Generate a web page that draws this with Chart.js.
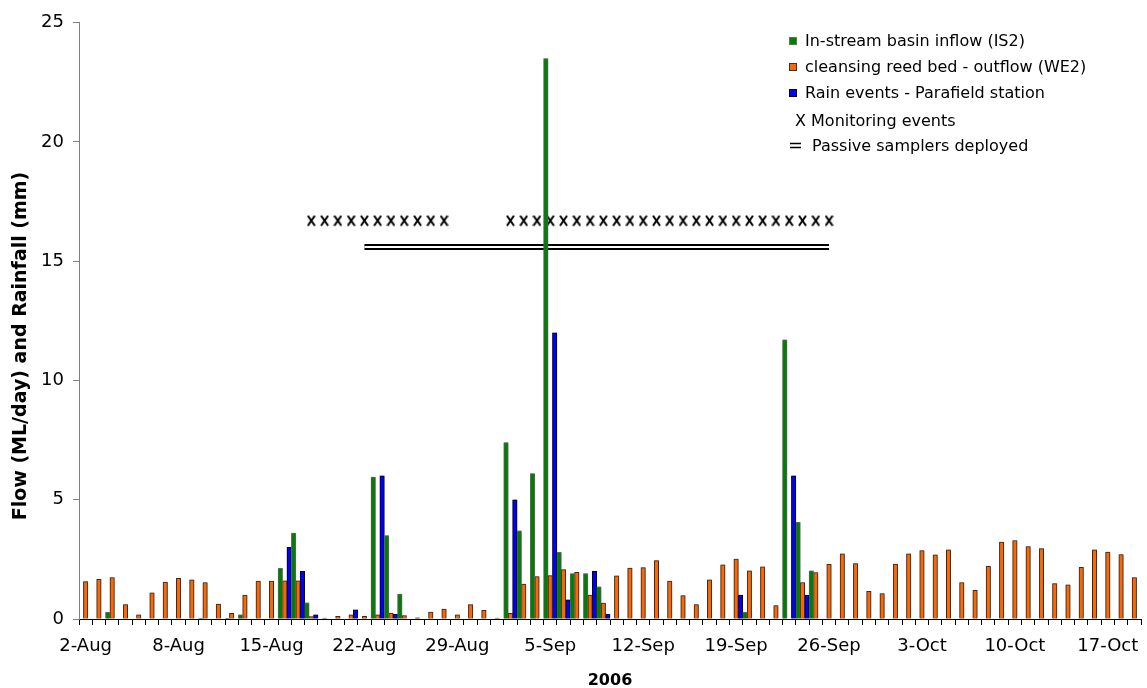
<!DOCTYPE html>
<html>
<head>
<meta charset="utf-8">
<script src="https://cdn.jsdelivr.net/npm/chart.js@4"></script>
<style>
  html, body { margin: 0; padding: 0; background: #fff; }
</style>
</head>
<body>
<canvas id="flowChart" width="1147" height="688"></canvas>
<script>
// one category per day, 1-Aug to 19-Oct 2006
const months = [['Aug', 31], ['Sep', 30], ['Oct', 19]];
const days = [];
months.forEach(([m, n]) => { for (let d = 1; d <= n; d++) days.push(d + '-' + m); });

// labels shown under every 7th day (as in the original sheet)
const tickLabels = ['2-Aug', '8-Aug', '15-Aug', '22-Aug', '29-Aug', '5-Sep',
  '12-Sep', '19-Sep', '26-Sep', '3-Oct', '10-Oct', '17-Oct'];

// ML/day
const inflowIS2 = [
  null, null, 0.28, null, null, null, null, null, null, 0.04,
  null, 0.03, 0.17, null, null, 2.12, 3.6, 0.68, null, null,
  null, null, 5.95, 3.5, 1.04, null, null, null, null, null,
  null, null, 7.4, 3.7, 6.1, 23.5, 2.8, 1.9, 1.9, 1.35,
  null, null, null, null, null, null, null, null, null, null,
  0.28, null, null, 11.7, 4.05, 2.02, null, null, null, null,
  null, null, null, null, null, null, null, null, null, null,
  null, null, null, null, null, null, null, null, null, null
];

const outflowWE2 = [
  1.57, 1.66, 1.74, 0.60, 0.17, 1.10, 1.55, 1.71, 1.64, 1.53,
  0.63, 0.24, 1.00, 1.59, 1.59, 1.60, 1.60, 0.10, 0.04, 0.11,
  0.18, 0.11, 0.17, 0.25, 0.14, 0.05, 0.29, 0.42, 0.18, 0.60,
  0.36, 0.04, 0.24, 1.46, 1.78, 1.82, 2.07, 1.96, 1.00, 0.67,
  1.81, 2.13, 2.16, 2.45, 1.59, 0.98, 0.60, 1.64, 2.27, 2.51,
  2.02, 2.19, 0.56, null, 1.53, 1.95, 2.29, 2.73, 2.32, 1.16,
  1.07, 2.30, 2.73, 2.87, 2.69, 2.90, 1.53, 1.20, 2.21, 3.23,
  3.29, 3.04, 2.95, 1.49, 1.43, 2.17, 2.90, 2.81, 2.70, 1.74
];

// mm
const rainfall = [
  null, null, null, null, null, null, null, null, null, null,
  null, null, null, null, null, 3.0, 2.0, 0.18, null, null,
  0.38, null, 6.0, 0.2, null, null, null, null, null, null,
  null, null, 5.0, null, null, 12.0, 0.8, null, 2.0, 0.2,
  null, null, null, null, null, null, null, null, null, 1.0,
  null, null, null, 6.0, 1.0, null, null, null, null, null,
  null, null, null, null, null, null, null, null, null, null,
  null, null, null, null, null, null, null, null, null, null
];

const monitoringDays = [
  '18-Aug', '19-Aug', '20-Aug', '21-Aug', '22-Aug', '23-Aug', '24-Aug', '25-Aug', '26-Aug', '27-Aug', '28-Aug',
  '2-Sep', '3-Sep', '4-Sep', '5-Sep', '6-Sep', '7-Sep', '8-Sep', '9-Sep', '10-Sep', '11-Sep', '12-Sep', '13-Sep',
  '14-Sep', '15-Sep', '16-Sep', '17-Sep', '18-Sep', '19-Sep', '20-Sep', '21-Sep', '22-Sep', '23-Sep', '24-Sep',
  '25-Sep', '26-Sep'
];
const passivePeriod = ['22-Aug', '26-Sep'];

// heights the two marker rows sit at
const monitorLevel = 16.7;
const passiveLevel = 15.6;

// little "x" glyph for monitoring events
const xMark = document.createElement('canvas');
xMark.width = 9; xMark.height = 12;
const xc = xMark.getContext('2d');
xc.strokeStyle = '#000';
xc.lineWidth = 2.1;
xc.beginPath();
xc.moveTo(1, 1); xc.lineTo(8, 11);
xc.moveTo(8, 1); xc.lineTo(1, 11);
xc.stroke();

const passiveData = passivePeriod.map(d => ({ x: d, y: passiveLevel }));

// soft grey halo round the bars, like the Excel shadow
const barHalo = {
  id: 'barHalo',
  beforeDatasetDraw(chart, args) {
    if (args.meta.type !== 'bar') return;
    chart.ctx.save();
    chart.ctx.shadowColor = 'rgba(0,0,0,0.4)';
    chart.ctx.shadowBlur = 2;
  },
  afterDatasetDraw(chart, args) {
    if (args.meta.type !== 'bar') return;
    chart.ctx.restore();
  }
};

// legend drawn inside the plot, top right
const legendBox = {
  id: 'legendBox',
  afterDraw(chart) {
    const ctx = chart.ctx;
    const ds = chart.data.datasets;
    ctx.save();
    ctx.font = '16px "DejaVu Sans"';
    ctx.textBaseline = 'middle';
    ctx.textAlign = 'left';
    const rows = [42, 68, 94, 122, 146.5];
    for (let i = 0; i < 3; i++) {
      ctx.fillStyle = ds[i].backgroundColor;
      ctx.fillRect(789, rows[i] - 5, 8, 8);
      ctx.strokeStyle = ds[i].borderColor;
      ctx.lineWidth = 1;
      ctx.strokeRect(789.5, rows[i] - 4.5, 7, 7);
      ctx.fillStyle = '#000';
      ctx.fillText(ds[i].label, 805, rows[i]);
    }
    ctx.fillText('X ' + ds[3].label, 795, rows[3]);
    ctx.strokeStyle = '#000';
    ctx.lineWidth = 1.3;
    ctx.beginPath();
    ctx.moveTo(790, rows[4] - 3); ctx.lineTo(801, rows[4] - 3);
    ctx.moveTo(790, rows[4] + 1); ctx.lineTo(801, rows[4] + 1);
    ctx.stroke();
    ctx.fillText(ds[5].label, 812, rows[4]);
    ctx.restore();
  }
};

const yTitle = {
  id: 'yTitle',
  afterDraw(chart) {
    const ctx = chart.ctx;
    ctx.save();
    ctx.translate(21, 346);
    ctx.rotate(-Math.PI / 2);
    ctx.font = 'bold 19px "DejaVu Sans"';
    ctx.fillStyle = '#000';
    ctx.textAlign = 'center';
    ctx.textBaseline = 'middle';
    ctx.fillText('Flow (ML/day) and Rainfall (mm)', 0, 0);
    ctx.restore();
  }
};

new Chart(document.getElementById('flowChart'), {
  type: 'bar',
  data: {
    labels: days,
    datasets: [
      { label: 'In-stream basin inflow (IS2)', data: inflowIS2,
        backgroundColor: '#008000', borderColor: '#6e6e6e', borderWidth: 1, order: 0 },
      { label: 'cleansing reed bed - outflow (WE2)', data: outflowWE2,
        backgroundColor: '#FF6600', borderColor: '#333333', borderWidth: 1, order: 0 },
      { label: 'Rain events - Parafield station', data: rainfall,
        backgroundColor: '#0000FF', borderColor: '#000000', borderWidth: 1, order: 0 },
      { type: 'line', label: 'Monitoring events',
        data: monitoringDays.map(d => ({ x: d, y: monitorLevel })),
        showLine: false, pointStyle: xMark, pointRadius: 5, order: 1 },
      { type: 'line', label: 'Passive samplers deployed', data: passiveData,
        borderColor: '#ffffff', borderWidth: 2, pointRadius: 0, order: 2 },
      { type: 'line', label: 'Passive samplers deployed', data: passiveData,
        borderColor: '#000000', borderWidth: 6, pointRadius: 0, order: 3 }
    ]
  },
  options: {
    responsive: false,
    animation: false,
    layout: { padding: { top: 22.7, right: 1.6, bottom: 0, left: 0 } },
    datasets: { bar: { categoryPercentage: 1.0, barPercentage: 1.0 } },
    plugins: { legend: { display: false }, tooltip: { enabled: false } },
    scales: {
      x: {
        grid: { drawOnChartArea: false, drawTicks: true, tickLength: 6, color: '#000', offset: true },
        border: { display: true, color: '#000', width: 1 },
        ticks: {
          autoSkip: false, maxRotation: 0, minRotation: 0, padding: 11, color: '#000',
          font: { family: 'DejaVu Sans', size: 18 },
          callback: (v, i) => (i % 7 === 0 ? tickLabels[i / 7] : '')
        },
        title: { display: true, text: '2006', color: '#000',
          font: { family: 'DejaVu Sans', size: 16, weight: 'bold' }, padding: { top: 0, bottom: -2 } },
        afterFit: s => { s.height = 69; }
      },
      y: {
        min: 0, max: 25,
        ticks: { stepSize: 5, padding: 9, color: '#000', font: { family: 'DejaVu Sans', size: 18 } },
        grid: { drawOnChartArea: false, tickLength: 6, color: '#808080' },
        border: { display: true, color: '#808080', width: 1 },
        afterFit: s => { s.width = 79; }
      }
    }
  },
  plugins: [barHalo, legendBox, yTitle]
});
</script>
</body>
</html>
